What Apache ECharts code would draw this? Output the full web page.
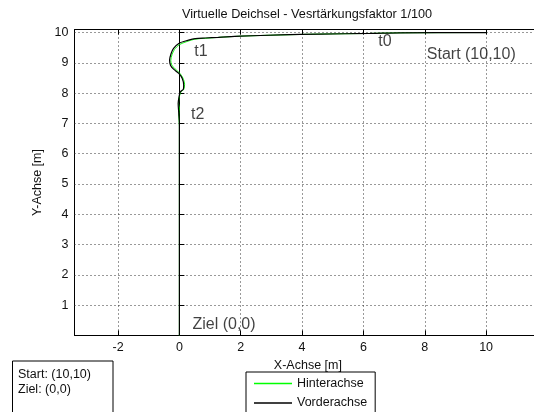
<!DOCTYPE html>
<html>
<head>
<meta charset="utf-8">
<script src="https://cdn.jsdelivr.net/npm/echarts@6/dist/echarts.min.js"></script>
<style>html,body{margin:0;padding:0;background:#fff;}#c{width:534px;height:412px;}</style>
</head>
<body>
<div id="c"></div>
<script>
// ---- data ----
var titleText = 'Virtuelle Deichsel - Vesrtärkungsfaktor 1/100';
var xTicks = [-2, 0, 2, 4, 6, 8, 10];
var xLabels = [-2, 0, 2, 4, 6, 8, 10];
var yTicks = [1, 2, 3, 4, 5, 6, 7, 8, 9, 10];
var seriesNames = ['Hinterachse', 'Vorderachse'];

// Vorderachse (front axle) path
var frontX = [10.0, 7.2, 6.22, 4.59, 3.29, 1.99, 1.27, 0.85, 0.52, 0.20, -0.02, -0.19, -0.27, -0.32, -0.29, -0.19, -0.02, 0.09, 0.14, 0.13, 0.03, -0.02, -0.04, -0.02, 0.0, 0.0];
var frontY = [10.0, 9.99, 9.97, 9.95, 9.92, 9.88, 9.84, 9.82, 9.80, 9.72, 9.64, 9.48, 9.31, 9.09, 8.92, 8.79, 8.65, 8.49, 8.27, 8.13, 8.04, 7.83, 7.66, 7.33, 7.0, 0.0];

// Hinterachse (rear axle) path
var rearX = [10.0, 7.2, 6.22, 4.59, 3.29, 1.99, 1.27, 0.85, 0.50, 0.24, 0.0, -0.16, -0.24, -0.28, -0.25, -0.14, 0.01, 0.12, 0.17, 0.14, 0.04, -0.01, -0.03, 0.0, -0.02, 0.0, 0.0];
var rearY = [10.0, 9.99, 9.97, 9.95, 9.92, 9.88, 9.84, 9.81, 9.78, 9.70, 9.60, 9.44, 9.27, 9.07, 8.93, 8.80, 8.66, 8.49, 8.29, 8.12, 8.02, 7.83, 7.66, 7.5, 7.28, 6.9, 0.0];

// annotations in the plot
var annoText = ['t0', 't1', 't2', 'Start (10,10)', 'Ziel (0,0)'];
var annoX = [6.47, 0.47, 0.36, 8.05, 0.41];
var annoY = [9.70, 9.38, 7.28, 9.26, 0.35];

// info box
var infoLines = ['Start: (10,10)', 'Ziel: (0,0)'];

// ---- chart ----
function pairs(xs, ys) { return xs.map(function (x, i) { return [x, ys[i]]; }); }
var FONT = '"Liberation Sans", Arial, sans-serif';
var TXT = '#111';

var chart = echarts.init(document.getElementById('c'), null, { renderer: 'canvas' });
var xCommon = {
  type: 'value', min: -3.42, max: 11.8,
  axisLine: { show: true, lineStyle: { color: '#000', width: 1 } },
  axisTick: { show: true, inside: true, length: 5, customValues: xTicks, lineStyle: { color: '#000' } }
};
chart.setOption({
  animation: false,
  backgroundColor: '#fff',
  title: {
    text: titleText, left: 182, top: 8, padding: 0,
    textStyle: { fontFamily: FONT, fontSize: 12.7, fontWeight: 'normal', color: TXT }
  },
  grid: {
    left: 74.5, right: -7.3, top: 29.5, bottom: 76.5,
    outerBoundsMode: 'none', containLabel: false,
    show: true, borderColor: '#000', borderWidth: 1, backgroundColor: '#fff'
  },
  legend: {
    data: seriesNames, orient: 'vertical', left: 246, top: 372, height: 80,
    padding: [4, 8, 6, 8], itemGap: 4.4, itemWidth: 38, itemHeight: 1.5, icon: 'rect',
    borderColor: '#000', borderWidth: 1, backgroundColor: '#fff', borderRadius: 0,
    textStyle: { fontFamily: FONT, fontSize: 12.5, color: TXT, lineHeight: 15 }
  },
  xAxis: [
    Object.assign({}, xCommon, {
      position: 'bottom',
      name: 'X-Achse [m]', nameLocation: 'middle', nameGap: 21,
      nameTextStyle: { fontFamily: FONT, fontSize: 12.5, color: TXT },
      axisLabel: { show: true, customValues: xLabels, margin: 6, fontFamily: FONT, fontSize: 12.5, color: TXT },
      splitLine: { show: true, lineStyle: { color: '#333', type: [1, 3], width: 1 } }
    }),
    Object.assign({}, xCommon, {
      position: 'top',
      axisLabel: { show: false },
      splitLine: { show: false }
    })
  ],
  yAxis: {
    type: 'value', min: 0, max: 10.1, position: 'left',
    name: 'Y-Achse [m]', nameLocation: 'middle', nameGap: 30,
    nameTextStyle: { fontFamily: FONT, fontSize: 12.5, color: TXT },
    axisLine: { show: true, lineStyle: { color: '#000', width: 1 } },
    axisTick: { show: true, inside: true, length: 5, customValues: yTicks, lineStyle: { color: '#000' } },
    axisLabel: { show: true, customValues: yTicks, margin: 6, fontFamily: FONT, fontSize: 12.5, color: TXT },
    splitLine: { show: true, lineStyle: { color: '#333', type: [1, 3], width: 1 } }
  },
  series: [
    {
      name: seriesNames[0], type: 'line', data: pairs(rearX, rearY), smooth: 0.3,
      showSymbol: false, symbol: 'none', color: '#00ff00',
      lineStyle: { color: '#00ff00', width: 0.9 }, z: 2
    },
    {
      name: seriesNames[1], type: 'line', data: pairs(frontX, frontY), smooth: 0.3,
      showSymbol: false, symbol: 'none', color: '#000',
      lineStyle: { color: '#000', width: 1.2 }, z: 3
    },
    {
      name: 'anno', type: 'scatter', silent: true, symbolSize: 1,
      itemStyle: { color: 'rgba(0,0,0,0)' },
      data: annoText.map(function (t, i) { return { value: [annoX[i], annoY[i]], name: t }; }),
      label: {
        show: true, position: 'right', distance: 0, formatter: '{b}',
        fontFamily: FONT, fontSize: 16, color: TXT
      }, z: 4
    }
  ],
  graphic: [
    {
      type: 'group', left: 12, top: 360.5,
      children: [
        { type: 'rect', shape: { x: 0, y: 0, width: 100.5, height: 60 }, style: { fill: '#fff', stroke: '#000', lineWidth: 1 } },
        { type: 'text', x: 5.5, y: 13.5, style: { text: infoLines[0], fontFamily: FONT, fontSize: 12.5, fill: TXT, verticalAlign: 'middle' } },
        { type: 'text', x: 5.5, y: 28.8, style: { text: infoLines[1], fontFamily: FONT, fontSize: 12.5, fill: TXT, verticalAlign: 'middle' } }
      ]
    }
  ]
});
</script>
</body>
</html>
